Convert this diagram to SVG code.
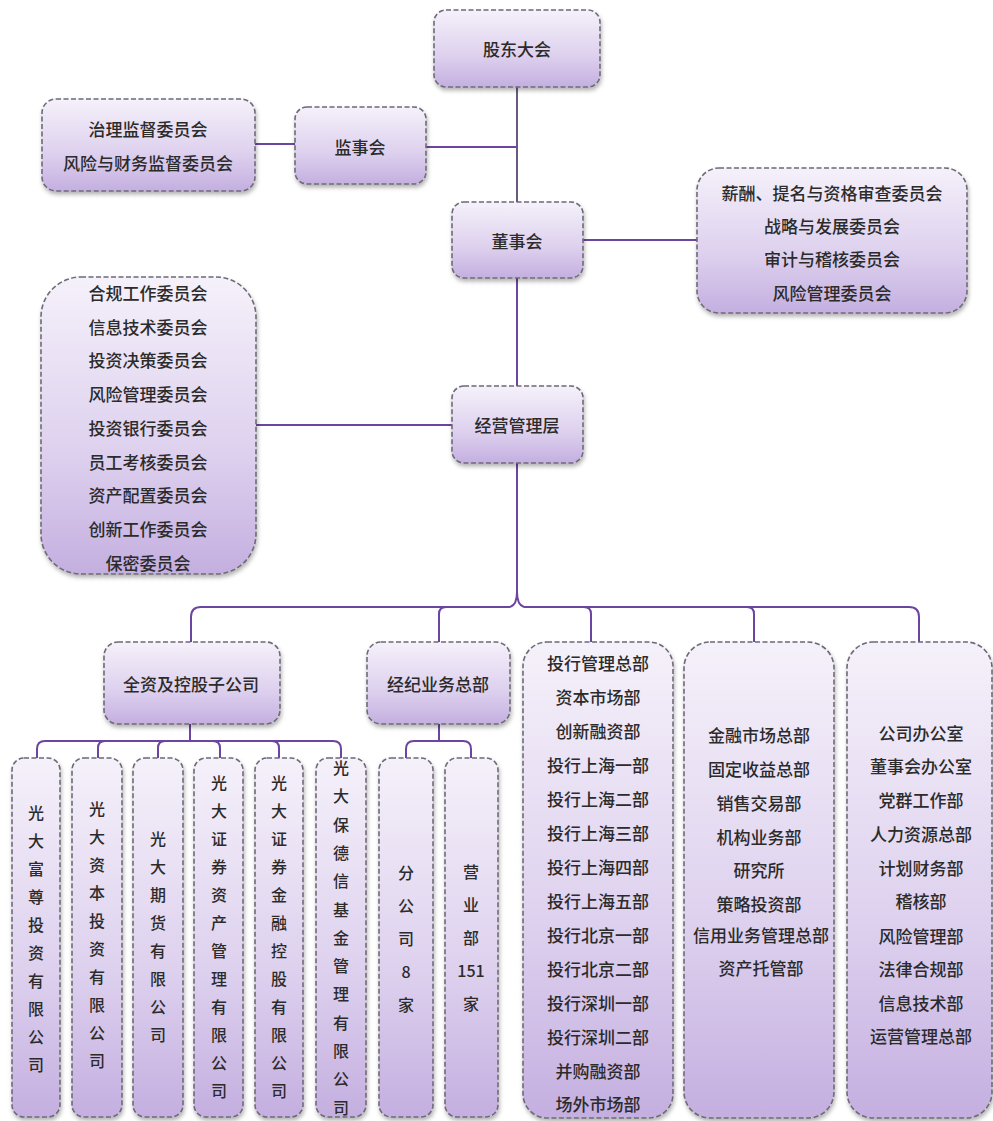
<svg xmlns="http://www.w3.org/2000/svg" width="993" height="1121" viewBox="0 0 993 1121">
<defs>
<linearGradient id="g" x1="0" y1="0" x2="0" y2="1">
<stop offset="0" stop-color="#f5f1fa"/>
<stop offset="0.6" stop-color="#ddd0ee"/>
<stop offset="1" stop-color="#c4afe0"/>
</linearGradient>
<filter id="sh" x="-10%" y="-10%" width="130%" height="130%">
<feDropShadow dx="1" dy="3" stdDeviation="2" flood-color="#000" flood-opacity="0.3"/>
</filter>
<style>
.box{fill:url(#g);stroke:#6e6a78;stroke-width:1.6;stroke-dasharray:5 2.5;filter:url(#sh)}
.t{font-family:"Noto Sans CJK SC","Noto Sans CJK JP",sans-serif;font-size:17px;font-weight:500;fill:#2b2b2b;text-anchor:middle;dominant-baseline:central}
.v{font-family:"Noto Sans CJK SC","Noto Sans CJK JP",sans-serif;font-size:16px;font-weight:500;fill:#2b2b2b;text-anchor:middle;dominant-baseline:central}
.c{fill:none;stroke:#6b45a0;stroke-width:2}
</style>
</defs>
<rect width="993" height="1121" fill="#fff"/>
<g id="connectors">
<path class="c" d="M517,87 V202" style="stroke:#6a5a80"/>
<path class="c" d="M426,147 H517"/>
<path class="c" d="M255,144 H295"/>
<path class="c" d="M583,240 H697"/>
<path class="c" d="M517,278 V386"/>
<path class="c" d="M256,425 H452"/>
<path class="c" d="M517,463 V592 Q517,605 510,607 M517,592 Q517,605 524,607"/>
<path class="c" d="M191,642 V617 Q191,607 201,607 H510 M524,607 H909 Q919,607 919,617 V642"/>
<path class="c" d="M439,642 V614 Q439,607 446,607 M591,642 V614 Q591,607 584,607 M754,642 V614 Q754,607 747,607"/>
<path class="c" d="M190,724 V741 M37,758 V749 Q37,741 45,741 H333 Q341,741 341,749 V758"/>
<path class="c" d="M98,758 V748 Q98,741 105,741 M158,758 V748 Q158,741 165,741 M220,758 V748 Q220,741 213,741 M279,758 V748 Q279,741 272,741"/>
<path class="c" d="M439,724 V741 M406,758 V749 Q406,741 414,741 H463 Q471,741 471,749 V758"/>
</g>
<g id="n_gudong"><rect class="box" x="434" y="10" width="166" height="77" rx="12"/><text class="t" x="517" y="48">股东大会</text></g>
<g id="n_jianshi"><rect class="box" x="295" y="107" width="131" height="77" rx="12"/><text class="t" x="360" y="146">监事会</text></g>
<g id="n_jianshi_comm"><rect class="box" x="42" y="99" width="213" height="92" rx="14"/><text class="t" x="148" y="128">治理监督委员会</text><text class="t" x="148" y="162">风险与财务监督委员会</text></g>
<g id="n_dongshi"><rect class="box" x="452" y="202" width="131" height="76" rx="12"/><text class="t" x="517" y="240">董事会</text></g>
<g id="n_dongshi_comm"><rect class="box" x="697" y="168" width="270" height="145" rx="22"/>
<text class="t" x="832" y="192">薪酬、提名与资格审查委员会</text>
<text class="t" x="832" y="225">战略与发展委员会</text>
<text class="t" x="832" y="258">审计与稽核委员会</text>
<text class="t" x="832" y="292">风险管理委员会</text></g>
<g id="n_mgmt_comm"><rect class="box" x="41" y="277" width="215" height="297" rx="40"/>
<text class="t" x="148" y="292">合规工作委员会</text>
<text class="t" x="148" y="326">信息技术委员会</text>
<text class="t" x="148" y="359">投资决策委员会</text>
<text class="t" x="148" y="393">风险管理委员会</text>
<text class="t" x="148" y="427">投资银行委员会</text>
<text class="t" x="148" y="461">员工考核委员会</text>
<text class="t" x="148" y="494">资产配置委员会</text>
<text class="t" x="148" y="528">创新工作委员会</text>
<text class="t" x="148" y="562">保密委员会</text></g>
<g id="n_mgmt"><rect class="box" x="452" y="386" width="131" height="77" rx="12"/><text class="t" x="517" y="424">经营管理层</text></g>
<g id="n_sub"><rect class="box" x="104" y="642" width="176" height="82" rx="14"/><text class="t" x="191" y="683">全资及控股子公司</text></g>
<g id="n_broker"><rect class="box" x="367" y="642" width="143" height="82" rx="14"/><text class="t" x="438" y="683">经纪业务总部</text></g>
<g id="n_ib"><rect class="box" x="523" y="642" width="150" height="476" rx="24"/>
<text class="t" x="598" y="662">投行管理总部</text>
<text class="t" x="598" y="696">资本市场部</text>
<text class="t" x="598" y="730">创新融资部</text>
<text class="t" x="598" y="764">投行上海一部</text>
<text class="t" x="598" y="798">投行上海二部</text>
<text class="t" x="598" y="832">投行上海三部</text>
<text class="t" x="598" y="866">投行上海四部</text>
<text class="t" x="598" y="900">投行上海五部</text>
<text class="t" x="598" y="934">投行北京一部</text>
<text class="t" x="598" y="968">投行北京二部</text>
<text class="t" x="598" y="1002">投行深圳一部</text>
<text class="t" x="598" y="1036">投行深圳二部</text>
<text class="t" x="598" y="1070">并购融资部</text>
<text class="t" x="598" y="1103">场外市场部</text></g>
<g id="n_fm"><rect class="box" x="684" y="642" width="150" height="476" rx="26"/>
<text class="t" x="759" y="734">金融市场总部</text>
<text class="t" x="759" y="768">固定收益总部</text>
<text class="t" x="759" y="802">销售交易部</text>
<text class="t" x="759" y="836">机构业务部</text>
<text class="t" x="759" y="869">研究所</text>
<text class="t" x="759" y="903">策略投资部</text>
<text class="t" x="761" y="934">信用业务管理总部</text>
<text class="t" x="761" y="967">资产托管部</text></g>
<g id="n_office"><rect class="box" x="847" y="642" width="145" height="476" rx="26"/>
<text class="t" x="921" y="732">公司办公室</text>
<text class="t" x="921" y="765">董事会办公室</text>
<text class="t" x="921" y="799">党群工作部</text>
<text class="t" x="921" y="833">人力资源总部</text>
<text class="t" x="921" y="867">计划财务部</text>
<text class="t" x="921" y="900">稽核部</text>
<text class="t" x="921" y="935">风险管理部</text>
<text class="t" x="921" y="968">法律合规部</text>
<text class="t" x="921" y="1002">信息技术部</text>
<text class="t" x="921" y="1035">运营管理总部</text></g>
<g id="n_c1"><rect class="box" x="12" y="758" width="48" height="359" rx="12"/>
<text class="v" x="36" y="812"><tspan x="36">光</tspan><tspan x="36" dy="28">大</tspan><tspan x="36" dy="28">富</tspan><tspan x="36" dy="28">尊</tspan><tspan x="36" dy="28">投</tspan><tspan x="36" dy="28">资</tspan><tspan x="36" dy="28">有</tspan><tspan x="36" dy="28">限</tspan><tspan x="36" dy="28">公</tspan><tspan x="36" dy="28">司</tspan></text></g>
<g id="n_c2"><rect class="box" x="72" y="758" width="50" height="359" rx="12"/>
<text class="v" x="97" y="808"><tspan x="97">光</tspan><tspan x="97" dy="28">大</tspan><tspan x="97" dy="28">资</tspan><tspan x="97" dy="28">本</tspan><tspan x="97" dy="28">投</tspan><tspan x="97" dy="28">资</tspan><tspan x="97" dy="28">有</tspan><tspan x="97" dy="28">限</tspan><tspan x="97" dy="28">公</tspan><tspan x="97" dy="28">司</tspan></text></g>
<g id="n_c3"><rect class="box" x="133" y="758" width="50" height="359" rx="12"/>
<text class="v" x="158" y="838"><tspan x="158">光</tspan><tspan x="158" dy="28">大</tspan><tspan x="158" dy="28">期</tspan><tspan x="158" dy="28">货</tspan><tspan x="158" dy="28">有</tspan><tspan x="158" dy="28">限</tspan><tspan x="158" dy="28">公</tspan><tspan x="158" dy="28">司</tspan></text></g>
<g id="n_c4"><rect class="box" x="194" y="758" width="49" height="359" rx="12"/>
<text class="v" x="219" y="782"><tspan x="219">光</tspan><tspan x="219" dy="28">大</tspan><tspan x="219" dy="28">证</tspan><tspan x="219" dy="28">券</tspan><tspan x="219" dy="28">资</tspan><tspan x="219" dy="28">产</tspan><tspan x="219" dy="28">管</tspan><tspan x="219" dy="28">理</tspan><tspan x="219" dy="28">有</tspan><tspan x="219" dy="28">限</tspan><tspan x="219" dy="28">公</tspan><tspan x="219" dy="28">司</tspan></text></g>
<g id="n_c5"><rect class="box" x="255" y="758" width="48" height="359" rx="12"/>
<text class="v" x="279" y="782"><tspan x="279">光</tspan><tspan x="279" dy="28">大</tspan><tspan x="279" dy="28">证</tspan><tspan x="279" dy="28">券</tspan><tspan x="279" dy="28">金</tspan><tspan x="279" dy="28">融</tspan><tspan x="279" dy="28">控</tspan><tspan x="279" dy="28">股</tspan><tspan x="279" dy="28">有</tspan><tspan x="279" dy="28">限</tspan><tspan x="279" dy="28">公</tspan><tspan x="279" dy="28">司</tspan></text></g>
<g id="n_c6"><rect class="box" x="316" y="758" width="50" height="359" rx="12"/>
<text class="v" x="341" y="767"><tspan x="341">光</tspan><tspan x="341" dy="28.3">大</tspan><tspan x="341" dy="28.3">保</tspan><tspan x="341" dy="28.3">德</tspan><tspan x="341" dy="28.3">信</tspan><tspan x="341" dy="28.3">基</tspan><tspan x="341" dy="28.3">金</tspan><tspan x="341" dy="28.3">管</tspan><tspan x="341" dy="28.3">理</tspan><tspan x="341" dy="28.3">有</tspan><tspan x="341" dy="28.3">限</tspan><tspan x="341" dy="28.3">公</tspan><tspan x="341" dy="28.3">司</tspan></text></g>
<g id="n_branch"><rect class="box" x="379" y="758" width="54" height="359" rx="12"/>
<text class="v" x="406" y="872"><tspan x="406">分</tspan><tspan x="406" dy="33">公</tspan><tspan x="406" dy="33">司</tspan><tspan x="406" dy="33">8</tspan><tspan x="406" dy="33">家</tspan></text></g>
<g id="n_sales"><rect class="box" x="445" y="758" width="53" height="359" rx="12"/>
<text class="v" x="471" y="871"><tspan x="471">营</tspan><tspan x="471" dy="33">业</tspan><tspan x="471" dy="33">部</tspan><tspan x="471" dy="33">151</tspan><tspan x="471" dy="33">家</tspan></text></g>
</svg>
